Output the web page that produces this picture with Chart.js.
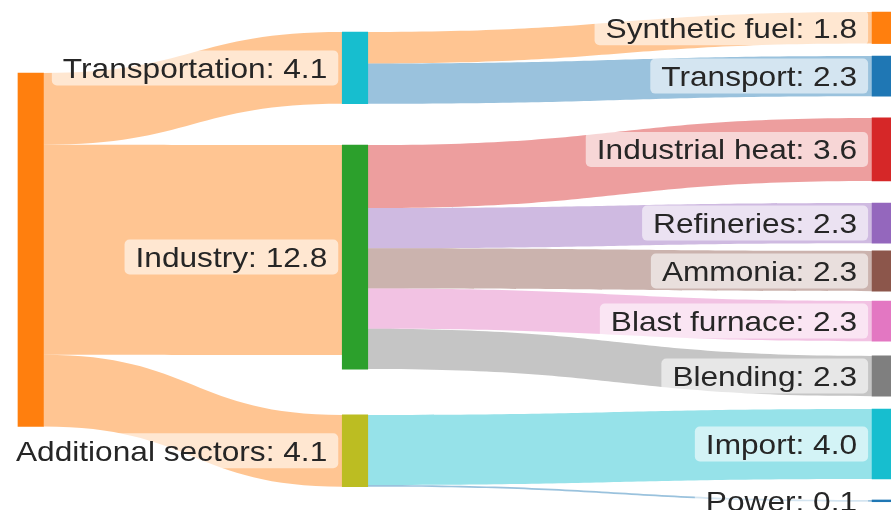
<!DOCTYPE html>
<html>
<head>
    <title>Sankey</title>
    <script src="https://cdn.jsdelivr.net/npm/chart.js"></script>
    <style>
        html, body { margin: 0; padding: 0; background: #fff; }
        #wrap { width: 891px; height: 510px; }
    </style>
</head>
<body>
    <div id="wrap"><canvas id="sankeyChart"></canvas></div>

    <script>
        // nodes (the first one's label sits outside the visible area)
        const nodeNames = ['', 'Transportation', 'Industry', 'Additional sectors',
            'Synthetic fuel', 'Transport', 'Industrial heat', 'Refineries', 'Ammonia',
            'Blast furnace', 'Blending', 'Import', 'Power'];

        // links
        const linkSource = [0, 0, 0, 1, 1, 2, 2, 2, 2, 2, 3, 3];
        const linkTarget = [1, 2, 3, 4, 5, 6, 7, 8, 9, 10, 11, 12];
        const linkValue = [4.1, 12.0, 4.1, 1.8, 2.3, 3.6, 2.3, 2.3, 2.3, 2.3, 4.0, 0.1];

        // layout: column of each node, column positions, node tops (in value units)
        const nodeStage = [0, 1, 1, 1, 2, 2, 2, 2, 2, 2, 2, 2, 2];
        const stageX = [0, 1, 2.634];
        const nodeTop = [4.17, 1.83, 8.29, 23.71, 0.69, 3.2, 6.74, 11.6, 14.34, 17.2, 20.34, 23.37, 28.57];

        // styles
        const nodeColors = ['#ff7f0e', '#17becf', '#2ca02c', '#bcbd22', '#ff7f0e', '#1f77b4',
            '#d62728', '#9467bd', '#8c564b', '#e377c2', '#7f7f7f', '#17becf', '#1f77b4'];
        const linkColorNode = [0, 0, 0, 4, 5, 6, 7, 8, 9, 10, 11, 12];
        const NODE_W = 25.5;
        const FONT_PX = 28;
        const TEXT_SX = 1.13;

        function rgba(hex, a) {
            const n = parseInt(hex.slice(1), 16);
            return `rgba(${(n >> 16) & 255}, ${(n >> 8) & 255}, ${n & 255}, ${a})`;
        }

        // node size = max(in, out)
        const nodeValue = nodeNames.map((_, i) => {
            let vin = 0, vout = 0;
            linkValue.forEach((v, k) => {
                if (linkTarget[k] === i) vin += v;
                if (linkSource[k] === i) vout += v;
            });
            return Math.max(vin, vout);
        });

        const sankeyPlugin = {
            id: 'sankeyLinks',
            beforeDatasetsDraw(chart) {
                const { ctx, scales: { x, y } } = chart;
                const half = NODE_W / 2;
                const outOff = nodeTop.slice();
                const inOff = nodeTop.slice();
                ctx.save();
                linkValue.forEach((v, k) => {
                    const s = linkSource[k], t = linkTarget[k];
                    const x0 = x.getPixelForValue(stageX[nodeStage[s]]) + half;
                    const x1 = x.getPixelForValue(stageX[nodeStage[t]]) - half;
                    const ys0 = y.getPixelForValue(outOff[s]);
                    const ys1 = y.getPixelForValue(outOff[s] + v);
                    const yt0 = y.getPixelForValue(inOff[t]);
                    const yt1 = y.getPixelForValue(inOff[t] + v);
                    outOff[s] += v;
                    inOff[t] += v;
                    const xm = (x0 + x1) / 2;
                    ctx.beginPath();
                    ctx.moveTo(x0, ys0);
                    ctx.bezierCurveTo(xm, ys0, xm, yt0, x1, yt0);
                    ctx.lineTo(x1, yt1);
                    ctx.bezierCurveTo(xm, yt1, xm, ys1, x0, ys1);
                    ctx.closePath();
                    ctx.fillStyle = rgba(nodeColors[linkColorNode[k]], 0.45);
                    ctx.fill();
                });
                ctx.restore();
            },
            afterDatasetsDraw(chart) {
                const { ctx, scales: { x, y } } = chart;
                ctx.save();
                ctx.font = `${FONT_PX}px "Liberation Sans", Arial, sans-serif`;
                nodeNames.forEach((name, i) => {
                    if (!name) return;
                    const label = `${name}: ${nodeValue[i].toFixed(1)}`;
                    const left = x.getPixelForValue(stageX[nodeStage[i]]) - NODE_W / 2;
                    const cy = (y.getPixelForValue(nodeTop[i]) + y.getPixelForValue(nodeTop[i] + nodeValue[i])) / 2;
                    const w = ctx.measureText(label).width * TEXT_SX;
                    const textRight = left - 15;
                    const bx = textRight - w - 11;
                    const bw = left - 4 - bx;
                    ctx.beginPath();
                    ctx.roundRect(bx, cy - 17.5, bw, 35, 5);
                    ctx.fillStyle = 'rgba(255, 255, 255, 0.58)';
                    ctx.fill();

                    ctx.save();
                    ctx.translate(textRight, cy + 10);
                    ctx.scale(TEXT_SX, 1);
                    ctx.textAlign = 'right';
                    ctx.textBaseline = 'alphabetic';
                    ctx.fillStyle = '#262626';
                    ctx.fillText(label, 0, 0);
                    ctx.restore();
                });
                ctx.restore();
            }
        };

        const ctxSankey = document.getElementById('sankeyChart').getContext('2d');
        new Chart(ctxSankey, {
            type: 'bar',
            data: {
                datasets: [{
                    data: nodeNames.map((_, i) => ({
                        x: stageX[nodeStage[i]],
                        y: [nodeTop[i], nodeTop[i] + nodeValue[i]]
                    })),
                    backgroundColor: nodeColors,
                    borderWidth: 0,
                    barThickness: NODE_W,
                    grouped: false
                }]
            },
            options: {
                responsive: true,
                maintainAspectRatio: false,
                animation: false,
                layout: { padding: 0 },
                scales: {
                    x: { type: 'linear', min: -0.0948, max: 2.653, offset: false, display: false },
                    y: { type: 'linear', min: 0, max: 29.143, reverse: true, display: false }
                },
                plugins: {
                    legend: { display: false },
                    tooltip: { enabled: false }
                }
            },
            plugins: [sankeyPlugin]
        });
    </script>
</body>
</html>
